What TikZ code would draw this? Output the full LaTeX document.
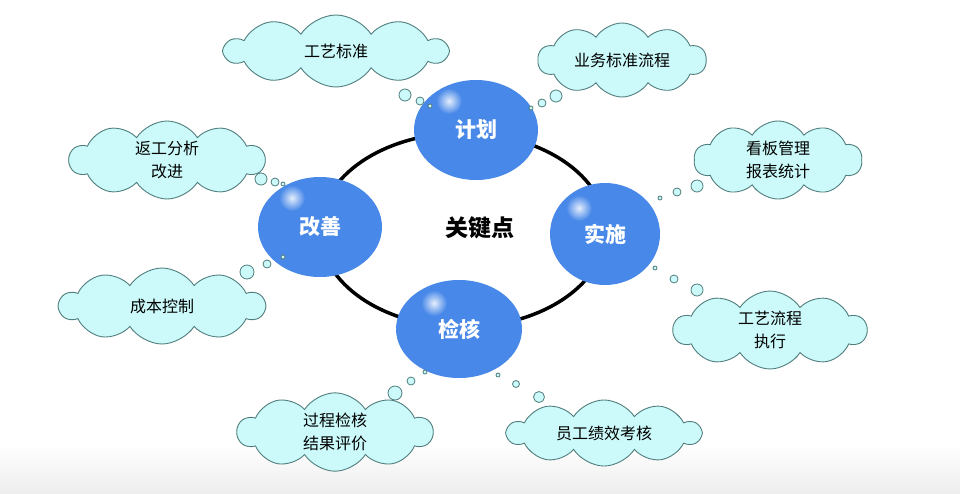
\documentclass[tikz,border=0pt]{standalone}
\usepackage{fontspec}
\newfontfamily\cjk{Noto Sans CJK SC}
\usetikzlibrary{shapes.symbols,shapes.geometric}
\definecolor{cblue}{RGB}{72,136,232}
\definecolor{cloudfill}{RGB}{204,250,250}
\definecolor{clouddraw}{RGB}{80,125,125}
\tikzset{
  thought/.style={cloud, cloud puffs=10, cloud puff arc=115, aspect=3, draw=clouddraw, fill=cloudfill, line width=0.9pt, inner sep=0pt, font=\cjk\fontsize{16}{23}\selectfont, align=center},
  bub/.style={circle, draw=clouddraw, fill=cloudfill, line width=0.8pt, inner sep=0pt},
  keyball/.style={ellipse, fill=cblue, inner sep=0pt, text=white, font=\cjk\bfseries\fontsize{21}{24}\selectfont},
  ring/.style={draw=black, line width=3.5pt}
}
\begin{document}
\begin{tikzpicture}[x=1pt,y=-1pt]
\useasboundingbox (0,0) rectangle (960,493);
\fill[white] (0,0) rectangle (960,493);
\shade[top color=white, bottom color=black!7] (0,445) rectangle (960,493);
% ring
\draw[ring] (463,230) ellipse [x radius=143, y radius=97];
% balls
\node[keyball, minimum width=124, minimum height=100] (jh) at (476,130) {};
\node[keyball, minimum width=110, minimum height=102] (ss) at (605,234) {};
\node[keyball, minimum width=126, minimum height=98] (jk) at (459,329) {};
\node[keyball, minimum width=124, minimum height=100] (gs) at (320,227) {};
% highlights
\foreach \p in {(449,101),(579,208),(434,303),(292,198)}{
  \shade[inner color=white!85!cblue, outer color=cblue] \p circle [radius=13];
}
\node[keyball] at (jh) {计划};
\node[keyball] at (ss) {实施};
\node[keyball] at (jk) {检核};
\node[keyball] at (gs) {改善};
\node[font=\cjk\bfseries\fontsize{23}{26}\selectfont] (key) at (480,228) {关键点};
% clouds
\node[thought, minimum width=222, minimum height=72] (c1) at (336,51) {工艺标准};
\node[thought, minimum width=168, minimum height=74] (c2) at (622,60) {业务标准流程};
\node[thought, minimum width=195, minimum height=70] (c3) at (167,160) {返工分析\\改进};
\node[thought, minimum width=168, minimum height=70] (c4) at (778,160) {看板管理\\报表统计};
\node[thought, minimum width=205, minimum height=76] (c5) at (162,306) {成本控制};
\node[thought, minimum width=193, minimum height=72] (c6) at (770,330) {工艺流程\\执行};
\node[thought, minimum width=195, minimum height=68] (c7) at (335,432) {过程检核\\结果评价};
\node[thought, minimum width=193, minimum height=66] (c8) at (604,433) {员工绩效考核};
% bubbles
\node[bub, minimum size=12] (b1a) at (405,95) {};
\node[bub, minimum size=8] (b1b) at (420,101) {};
\node[bub, minimum size=4] (b1c) at (430,106) {};
\node[bub, minimum size=12] (b2a) at (556,96) {};
\node[bub, minimum size=8] (b2b) at (542,103) {};
\node[bub, minimum size=4] (b2c) at (531,108) {};
\node[bub, minimum size=12] (b3a) at (261,179) {};
\node[bub, minimum size=8] (b3b) at (275,182) {};
\node[bub, minimum size=4] (b3c) at (283,184) {};
\node[bub, minimum size=14] (b5a) at (247,272) {};
\node[bub, minimum size=8] (b5b) at (267,264) {};
\node[bub, minimum size=4] (b5c) at (283,257) {};
\node[bub, minimum size=4] (b4c) at (660,198) {};
\node[bub, minimum size=8] (b4b) at (677,192) {};
\node[bub, minimum size=12] (b4a) at (697,186) {};
\node[bub, minimum size=4] (b6c) at (655,268) {};
\node[bub, minimum size=8] (b6b) at (674,279) {};
\node[bub, minimum size=12] (b6a) at (697,290) {};
\node[bub, minimum size=4] (b7c) at (425,372) {};
\node[bub, minimum size=8] (b7b) at (411,381) {};
\node[bub, minimum size=14] (b7a) at (395,393) {};
\node[bub, minimum size=4] (b8c) at (498,375) {};
\node[bub, minimum size=7] (b8b) at (516,384) {};
\node[bub, minimum size=11] (b8a) at (539,397) {};
\end{tikzpicture}
\end{document}
